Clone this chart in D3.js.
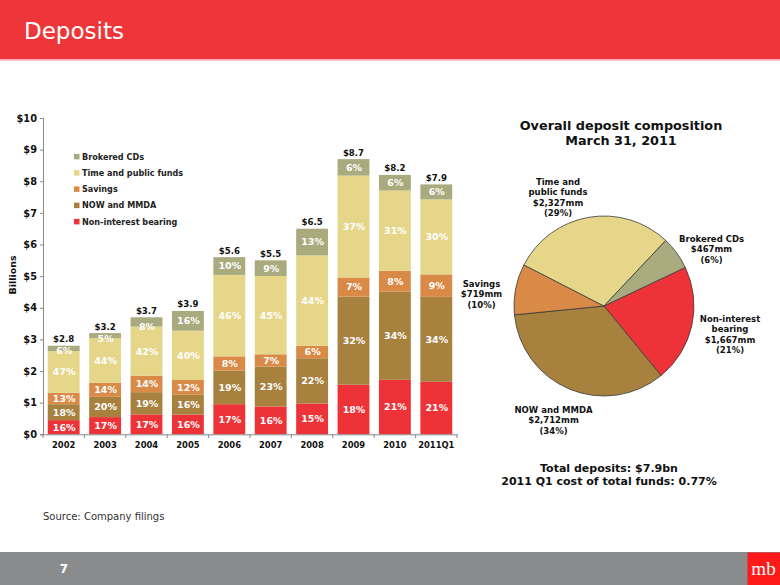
<!DOCTYPE html>
<html>
<head>
<meta charset="utf-8">
<script src="https://cdn.jsdelivr.net/npm/d3@7"></script>
<style>
  html, body { margin: 0; padding: 0; background: #fff; }
  svg { display: block; }
  text { font-family: "DejaVu Sans", Verdana, sans-serif; }
</style>
</head>
<body>
<svg id="chart" width="780" height="585"></svg>
<script>
// ---------- data ----------
const categories = ["2002", "2003", "2004", "2005", "2006", "2007", "2008", "2009", "2010", "2011Q1"];
const totals = [2.8, 3.2, 3.7, 3.9, 5.6, 5.5, 6.5, 8.7, 8.2, 7.9];
const seriesNames = ["Non-interest bearing", "NOW and MMDA", "Savings", "Time and public funds", "Brokered CDs"];
const pctNonInterest = [16, 17, 17, 16, 17, 16, 15, 18, 21, 21];
const pctNowMmda = [18, 20, 19, 16, 19, 23, 22, 32, 34, 34];
const pctSavings = [13, 14, 14, 12, 8, 7, 6, 7, 8, 9];
const pctTime = [47, 44, 42, 40, 46, 45, 44, 37, 31, 30];
const pctBrokered = [6, 5, 8, 16, 10, 9, 13, 6, 6, 6];
const yTicks = [0, 1, 2, 3, 4, 5, 6, 7, 8, 9, 10];

const pieNames = ["Non-interest bearing", "NOW and MMDA", "Savings", "Time and public funds", "Brokered CDs"];
const pieValues = [1667, 2712, 719, 2327, 467];
const piePct = [21, 34, 10, 29, 6];
const pieLabelLines = [
  ["Non-interest", "bearing", "$1,667mm", "(21%)"],
  ["NOW and MMDA", "$2,712mm", "(34%)"],
  ["Savings", "$719mm", "(10%)"],
  ["Time and", "public funds", "$2,327mm", "(29%)"],
  ["Brokered CDs", "$467mm", "(6%)"]
];

const colors = ["#EE3338", "#A8813F", "#D98A46", "#E6D68A", "#A9AA7D"];

// ---------- svg ----------
const svg = d3.select("#chart");

// header
svg.append("rect").attr("x", 0).attr("y", 0).attr("width", 780).attr("height", 59.5).attr("fill", "#EE363A");
svg.append("rect").attr("x", 0).attr("y", 59.5).attr("width", 780).attr("height", 1.5).attr("fill", "#F6C9C9");
svg.append("text").attr("x", 24).attr("y", 38.5).attr("fill", "#fff")
  .attr("font-size", 23).text("Deposits");

// footer
svg.append("rect").attr("x", 0).attr("y", 552).attr("width", 780).attr("height", 33).attr("fill", "#8A8B8D");
svg.append("text").attr("x", 64).attr("y", 572.5).attr("fill", "#fff").attr("text-anchor", "middle")
  .attr("font-size", 12).attr("font-weight", "bold").text("7");
svg.append("rect").attr("x", 747.5).attr("y", 552.5).attr("width", 32.5).attr("height", 32.5).attr("fill", "#FF1A1A");
svg.append("text").attr("x", 763.5).attr("y", 575).attr("fill", "#fff").attr("text-anchor", "middle")
  .style("font-family", "'Liberation Serif', 'DejaVu Serif', serif").attr("font-size", 19).text("mb");

// source
svg.append("text").attr("x", 43).attr("y", 520).attr("fill", "#333")
  .attr("font-size", 10).text("Source: Company filings");

// ---------- bar chart ----------
const x = d3.scaleBand().domain(categories).range([43, 457]).paddingInner(0.23).paddingOuter(0.115);
const y = d3.scaleLinear().domain([0, 10]).range([434.3, 118]);

const pctSeries = [pctNonInterest, pctNowMmda, pctSavings, pctTime, pctBrokered];
const rows = categories.map((c, i) => {
  const r = { cat: c, total: totals[i] };
  seriesNames.forEach((s, k) => { r[s] = totals[i] * pctSeries[k][i] / 100; r["pct_" + k] = pctSeries[k][i]; });
  return r;
});
const stacked = d3.stack().keys(seriesNames)(rows);

const gBars = svg.append("g");
stacked.forEach((layer, k) => {
  gBars.append("g").attr("fill", colors[k])
    .selectAll("rect").data(layer).join("rect")
    .attr("x", d => x(d.data.cat))
    .attr("width", x.bandwidth())
    .attr("y", d => y(d[1]))
    .attr("height", d => y(d[0]) - y(d[1]));
});

// percentage labels
const gLab = svg.append("g").attr("fill", "#fff").attr("font-size", 9.5).attr("font-weight", "bold")
  .attr("text-anchor", "middle");
stacked.forEach((layer, k) => {
  gLab.selectAll(null).data(layer).join("text")
    .attr("x", d => x(d.data.cat) + x.bandwidth() / 2 + 0.5)
    .attr("y", d => {
      const h = y(d[0]) - y(d[1]);
      return h < 10 ? y(d[0]) : (y(d[0]) + y(d[1])) / 2;
    })
    .attr("dy", "0.36em")
    .text(d => d.data["pct_" + k] + "%");
});

// totals
svg.append("g").attr("font-size", 8.6).attr("font-weight", "bold").attr("fill", "#111").attr("text-anchor", "middle")
  .selectAll("text").data(rows).join("text")
  .attr("x", d => x(d.cat) + x.bandwidth() / 2)
  .attr("y", d => y(d.total) - 3.5)
  .text(d => "$" + d.total.toFixed(1));

// y axis
const yAxis = svg.append("g").attr("transform", "translate(43,0)")
  .call(d3.axisLeft(y).tickValues(yTicks).tickFormat(d => "$" + d).tickSize(3).tickPadding(3));
yAxis.select(".domain").attr("stroke", "#888");
yAxis.selectAll(".tick line").attr("stroke", "#888");
yAxis.selectAll(".tick text").attr("font-family", "DejaVu Sans").attr("font-size", 9.8)
  .attr("font-weight", "bold").attr("fill", "#111");

// x axis
const xAxis = svg.append("g").attr("transform", "translate(0,434.3)")
  .call(d3.axisBottom(x).tickSize(0).tickPadding(8));
xAxis.select(".domain").attr("stroke", "#888");
xAxis.selectAll(".tick text").attr("font-family", "DejaVu Sans").attr("font-size", 8.4)
  .attr("font-weight", "bold").attr("fill", "#111");
svg.append("g").selectAll("line").data(d3.range(categories.length + 1)).join("line")
  .attr("x1", i => x.range()[0] + i * x.step()).attr("x2", i => x.range()[0] + i * x.step())
  .attr("y1", 434.3).attr("y2", 438).attr("stroke", "#888");

// axis title
svg.append("text").attr("transform", "translate(15.5,275) rotate(-90)").attr("text-anchor", "middle")
  .attr("font-size", 9.5).attr("font-weight", "bold").attr("fill", "#111").text("Billions");

// legend
const legOrder = [4, 3, 2, 1, 0];
const leg = svg.append("g").selectAll("g").data(legOrder).join("g")
  .attr("transform", (k, i) => `translate(74,${156.7 + i * 16.25})`);
leg.append("rect").attr("x", 0).attr("y", -2.8).attr("width", 5.5).attr("height", 5.5).attr("fill", k => colors[k]);
leg.append("text").attr("x", 8).attr("dy", "0.36em").attr("font-size", 8.1).attr("font-weight", "bold")
  .attr("fill", "#222").text(k => seriesNames[k]);

// ---------- pie ----------
const cx = 604, cy = 306, r = 90;
const start = 64.6 * Math.PI / 180;
const pie = d3.pie().sort(null).startAngle(start).endAngle(start + 2 * Math.PI);
const arcs = pie(pieValues);
const arc = d3.arc().innerRadius(0).outerRadius(r);
svg.append("g").attr("transform", `translate(${cx},${cy})`)
  .selectAll("path").data(arcs).join("path")
  .attr("d", arc).attr("fill", (d, i) => colors[i])
  .attr("stroke", "#3a3a3a").attr("stroke-width", 0.8);

// pie labels (anchor centers)
const pieLabelPos = [[730, 318.5], [553.5, 409.5], [481.5, 283.5], [558, 181.7], [711.5, 238.5]];
pieLabelLines.forEach((lines, i) => {
  const t = svg.append("text").attr("text-anchor", "middle").attr("font-size", 8.5)
    .attr("font-weight", "bold").attr("fill", "#111");
  lines.forEach((ln, j) => {
    t.append("tspan").attr("x", pieLabelPos[i][0]).attr("y", pieLabelPos[i][1] + j * 10.5)
      .attr("dy", "0.36em").text(ln);
  });
});

// pie title
svg.append("text").attr("x", 621).attr("y", 125).attr("dy", "0.36em").attr("text-anchor", "middle")
  .attr("font-size", 12.8).attr("font-weight", "bold").attr("fill", "#111").text("Overall deposit composition");
svg.append("text").attr("x", 621).attr("y", 140.7).attr("dy", "0.36em").attr("text-anchor", "middle")
  .attr("font-size", 12.8).attr("font-weight", "bold").attr("fill", "#111").text("March 31, 2011");

// totals text
svg.append("text").attr("x", 609).attr("y", 468).attr("dy", "0.36em").attr("text-anchor", "middle")
  .attr("font-size", 11).attr("font-weight", "bold").attr("fill", "#111").text("Total deposits: $7.9bn");
svg.append("text").attr("x", 609).attr("y", 481.5).attr("dy", "0.36em").attr("text-anchor", "middle")
  .attr("font-size", 11).attr("font-weight", "bold").attr("fill", "#111").text("2011 Q1 cost of total funds: 0.77%");
</script>
</body>
</html>
